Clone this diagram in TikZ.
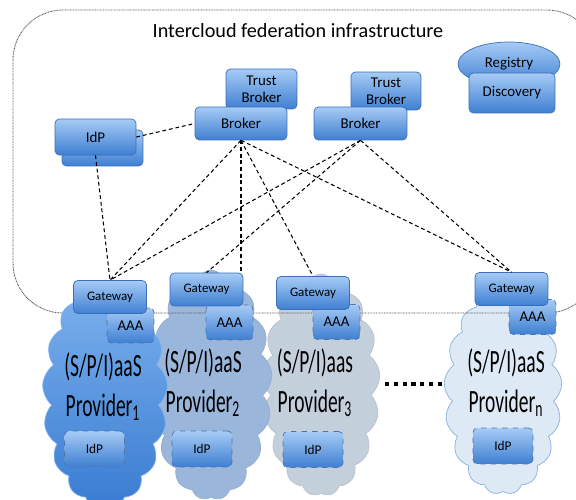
\documentclass[tikz,border=0pt]{standalone}
\usepackage{fontspec}
\setmainfont{Carlito}
\newfontfamily\provfont[FakeStretch=0.6]{Carlito}
\usetikzlibrary{shapes.geometric,shapes.symbols}

\definecolor{boxtop}{HTML}{A6CBF5}
\definecolor{boxbot}{HTML}{3F7FD2}
\definecolor{boxline}{HTML}{3A6EB5}
\definecolor{cloudatop}{HTML}{7DB2EE}
\definecolor{cloudabot}{HTML}{3A7CD2}
\definecolor{cloudb}{HTML}{9BB6DB}
\definecolor{cloudc}{HTML}{C4CFDC}
\definecolor{cloudd}{HTML}{DEE9F6}
\definecolor{cloudline}{HTML}{8AAEDD}

\begin{document}
\begin{tikzpicture}[x=0.02cm,y=-0.02cm,
    box/.style={draw=boxline,top color=boxtop,bottom color=boxbot,rounded corners=2.5pt,inner sep=0pt,align=center,font=\fontsize{8.5}{9.5}\selectfont},
    smallbox/.style={box,font=\fontsize{7.4}{9}\selectfont},
    dbox/.style={box,dashed,draw=boxline!70!gray},
    link/.style={draw,line width=0.6pt,dash pattern=on 2.2pt off 1.6pt},
    provcloud/.style={cloud,cloud puffs=17,cloud puff arc=105,cloud ignores aspect,inner sep=0pt},
    provtext/.style={align=center,font=\provfont\fontsize{18.5}{22.5}\selectfont}
]
    \useasboundingbox (0,0) rectangle (576,500);

    % providers behind the frame
    \node[provcloud,fill=cloudd,draw=cloudline,minimum width=2.36cm,minimum height=4.1cm] (cln) at (503,392) {};
    \node[provcloud,fill=cloudc,draw=cloudc!85!gray,minimum width=2.36cm,minimum height=4.44cm] (cl3) at (321,385) {};
    \node[provcloud,fill=cloudb,draw=cloudb!85!gray,minimum width=2.44cm,minimum height=4.6cm] (cl2) at (211,385) {};

    % federation frame
    \draw[gray!70!black,line width=0.5pt,dash pattern=on 0.5pt off 0.4pt,rounded corners=1cm] (13,10) rectangle (597,313);
    \node[font=\fontsize{11.5}{13}\selectfont] (title) at (298,31) {Intercloud federation infrastructure};

    \node[provcloud,top color=cloudatop,bottom color=cloudabot,draw=cloudatop,minimum width=2.5cm,minimum height=4.5cm] (cl1) at (105,395) {};

    \foreach \i/\px/\py/\t in {1/103/387/aaS,2/203/383/aaS,3/315/383/aas,n/506/383/aaS} {
        \node[provtext] (prov\i) at (\px,\py) {(S/P/I)\t\\Provider\textsubscript{\i}};
    }

    \coordinate (dotsl) at (385,384);
    \coordinate (dotsr) at (445,384);
    \draw[line width=2.4pt,dash pattern=on 2.4pt off 2.6pt] (dotsl) -- (dotsr);

    % federation services
    \node[box,ellipse,minimum width=2.04cm,minimum height=0.88cm] (reg) at (509,64) {Registry};
    \node[box,minimum width=1.72cm,minimum height=0.8cm] (disc) at (512,93) {Discovery};

    \node[box,minimum width=1.42cm,minimum height=0.8cm] (tb1) at (261.5,89) {Trust\\Broker};
    \node[box,minimum width=1.84cm,minimum height=0.66cm] (b1) at (241,123.5) {Broker};
    \node[box,minimum width=1.4cm,minimum height=0.76cm] (tb2) at (386,91) {Trust\\Broker};
    \node[box,minimum width=1.86cm,minimum height=0.66cm] (b2) at (360.5,123.5) {Broker};

    \node[box,minimum width=1.62cm,minimum height=0.72cm] (idpb) at (102.5,148) {};
    \node[box,minimum width=1.62cm,minimum height=0.72cm] (idp) at (95.5,137) {IdP};

    % boxes of each provider
    \foreach \i/\gx/\gy/\ax/\ay/\ix/\iy in {1/110/297/130.5/325.5/94.5/449,2/206.5/289.5/229.5/322.5/202/449,3/313/293/336.5/322/313/449.5,n/511.5/289/532.5/317/503/446} {
        \node[dbox,minimum width=0.94cm,minimum height=0.7cm] (aaa\i) at (\ax,\ay) {AAA};
        \node[smallbox,minimum width=1.46cm,minimum height=0.66cm] (gw\i) at (\gx,\gy) {Gateway};
        \node[dbox,font=\fontsize{7.6}{9}\selectfont,minimum width=1.2cm,minimum height=0.72cm] (idp\i) at (\ix,\iy) {IdP};
    }

    % links
    \draw[link] (idp.east) -- (b1.west);
    \draw[link] (idp.south) -- (gw1.north);
    \foreach \g in {gw1,gw3,gwn} {
        \draw[link] (b1.south) -- (\g.north);
    }
    \draw[link] (b1.south) -- (b1.south |- gw2.north);
    \foreach \g in {gw1,gw2,gwn} {
        \draw[link] (b2.south) -- (\g.north);
    }
\end{tikzpicture}
\end{document}
